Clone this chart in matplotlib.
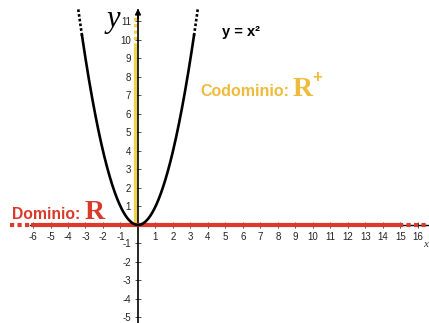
import numpy as np
import matplotlib.pyplot as plt

# tick values on both axes (0 is left unlabeled)
x_ticks = [-6, -5, -4, -3, -2, -1, 1, 2, 3, 4, 5, 6, 7, 8, 9, 10, 11, 12, 13, 14, 15, 16]
y_ticks = [-5, -4, -3, -2, -1, 1, 2, 3, 4, 5, 6, 7, 8, 9, 10, 11]

# parabola y = x^2: solid part and dotted continuation
x_solid = np.linspace(-3.2, 3.2, 300)
x_dot_right = np.linspace(3.2, 3.42, 20)
x_dot_left = -x_dot_right

# domain (red, along x axis) and codomain (yellow, along y axis)
dom_solid = [-6.1, 14.9]
dom_left_dots = [-7.3, -6.1]
dom_right_dots = [14.9, 16.7]
cod_solid = [0, 9.7]
cod_dots = [9.7, 11.4]

RED = '#da3a2b'
GOLD = '#efbb3b'
YELLOW = '#f4d045'

fig = plt.figure(figsize=(4.29, 3.23), dpi=100)
ax = fig.add_axes([0, 0, 1, 1])
ax.set_xlim(-7.886, 16.63)
ax.set_ylim(-5.3, 12.16)

for s in ['top', 'right']:
    ax.spines[s].set_visible(False)
ax.spines['left'].set_position(('data', 0))
ax.spines['bottom'].set_position(('data', 0))
ax.spines['left'].set_bounds(-5.35, 11.6)
ax.spines['bottom'].set_bounds(-6.2, 16.7)
ax.spines['left'].set_linewidth(1.2)
ax.spines['bottom'].set_linewidth(1.0)

ax.set_xticks(x_ticks)
ax.set_yticks(y_ticks)
ax.set_xticklabels([str(v) for v in x_ticks])
ax.set_yticklabels([str(v) for v in y_ticks])
ax.tick_params(direction='inout', length=4, width=0.6, color='#333',
               labelsize=7, labelcolor='#222', pad=3)
for lab in ax.get_xticklabels() + ax.get_yticklabels():
    lab.set_family('Liberation Sans')

# arrow on top of y axis
ax.annotate('', xy=(0, 11.85), xytext=(0, 11.0),
            arrowprops=dict(arrowstyle='-|>', color='black', lw=1.2,
                            mutation_scale=8))

# codomain band
ax.plot([-0.15, -0.15], cod_solid, color=YELLOW, lw=2.3, solid_capstyle='butt', zorder=2)
ax.plot([-0.15, -0.15], cod_dots, color=YELLOW, lw=2.3, ls=(0, (1, 1)), zorder=2)

# domain band
ax.plot(dom_solid, [0, 0], color=RED, lw=3, solid_capstyle='butt', zorder=3)
ax.plot(dom_left_dots, [0, 0], color=RED, lw=3, ls=(0, (1, 0.8)), zorder=3)
ax.plot(dom_right_dots, [0, 0], color=RED, lw=3, ls=(0, (1, 0.8)), zorder=3)

# parabola
ax.plot(x_solid, x_solid ** 2, color='black', lw=1.9, zorder=4)
ax.plot(x_dot_right, x_dot_right ** 2, color='black', lw=1.9, ls=(0, (1, 0.8)), zorder=4)
ax.plot(x_dot_left, x_dot_left ** 2, color='black', lw=1.9, ls=(0, (1, 0.8)), zorder=4)

# labels
ax.text(4.8, 10.43, 'y = x²', fontsize=10.5, fontweight='bold', color='black',
        family='Liberation Sans', va='center')
ax.text(3.55, 6.95, 'Codominio:', fontsize=11.5, fontweight='bold', color=GOLD,
        family='Liberation Sans', va='baseline')
ax.text(8.86, 6.95, 'R', fontsize=20, fontweight='bold', color=GOLD,
        family='Liberation Serif', va='baseline')
ax.text(9.95, 7.95, '+', fontsize=12, fontweight='bold', color=GOLD,
        family='Liberation Sans', va='center')
ax.text(-7.2, 0.32, 'Dominio:', fontsize=11.3, fontweight='bold', color=RED,
        family='Liberation Sans', va='baseline')
ax.text(-3.05, 0.32, 'R', fontsize=20, fontweight='bold', color=RED,
        family='Liberation Serif', va='baseline')

ax.text(-1.43, 11.08, 'y', fontsize=22, fontstyle='italic', color='black',
        family='Liberation Serif', va='center', ha='center')
ax.text(16.45, -1.05, 'x', fontsize=8, fontstyle='italic', color='#333',
        family='Liberation Serif', va='center', ha='center')

fig.savefig('out.png', dpi=100)
